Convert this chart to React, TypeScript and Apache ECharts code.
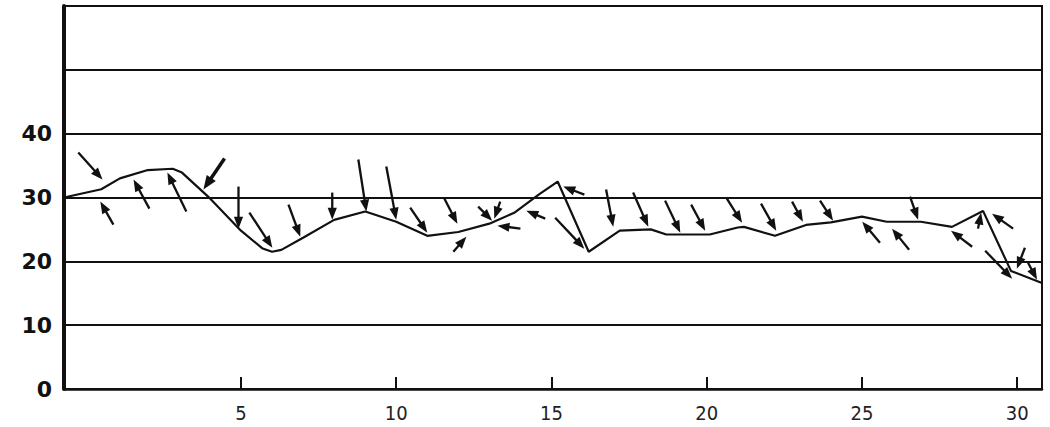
import React, { useEffect, useRef } from "react";
import * as echarts from "echarts";

// Main curve: day of month vs value
const lineDays = [-0.7, 0.5, 1.1, 2, 2.8, 3.1, 3.95, 5, 5.7, 6, 6.3, 7, 8, 9, 9.2, 10, 11, 12, 13, 13.8, 14.6, 15.2, 16.2, 17.2, 18.2, 18.7, 19.5, 20.1, 21, 21.2, 22.2, 23.2, 24, 25, 25.8, 26.9, 27.9, 28.9, 29.8, 30.8];
const lineValues = [30.0, 31.3, 33.0, 34.3, 34.5, 33.9, 30.1, 24.8, 22.0, 21.5, 21.8, 23.7, 26.5, 27.8, 27.5, 26.2, 24.0, 24.6, 25.9, 27.6, 30.5, 32.5, 21.5, 24.8, 25.0, 24.2, 24.2, 24.2, 25.3, 25.4, 24.0, 25.7, 26.1, 27.0, 26.2, 26.2, 25.4, 27.9, 18.5, 16.6];

// Wind arrows: [tailDay, tailValue, headDay, headValue]
const windArrows: number[][] = [
  [-0.24, 37.05, 0.54, 32.81],
  [0.89, 25.75, 0.47, 29.36],
  [2.05, 28.26, 1.54, 32.81],
  [3.24, 27.79, 2.63, 33.91],
  [4.47, 36.11, 3.79, 31.24],
  [4.92, 31.71, 4.92, 25.12],
  [5.27, 27.63, 6.01, 22.14],
  [6.53, 28.89, 6.91, 23.86],
  [7.94, 30.77, 7.94, 26.53],
  [8.78, 35.95, 9.04, 27.79],
  [9.68, 34.85, 10.0, 26.53],
  [10.45, 28.41, 11.0, 24.49],
  [11.55, 29.83, 11.97, 25.9],
  [11.84, 21.51, 12.26, 23.86],
  [12.64, 28.57, 13.09, 26.37],
  [13.35, 29.36, 13.16, 26.69],
  [14.0, 25.12, 13.26, 25.59],
  [14.8, 26.69, 14.19, 27.94],
  [16.06, 30.46, 15.38, 31.71],
  [15.12, 26.84, 16.06, 21.98],
  [16.76, 31.24, 16.99, 25.43],
  [17.63, 30.77, 18.12, 25.43],
  [18.66, 29.51, 19.15, 24.49],
  [19.5, 28.89, 19.95, 24.8],
  [20.63, 29.98, 21.14, 26.06],
  [21.75, 29.04, 22.24, 24.8],
  [22.75, 29.36, 23.1, 26.22],
  [23.65, 29.51, 24.07, 26.37],
  [25.58, 22.92, 25.01, 26.22],
  [26.52, 21.82, 25.97, 25.12],
  [26.55, 30.14, 26.81, 26.53],
  [28.55, 22.29, 27.87, 24.8],
  [28.74, 25.12, 28.84, 27.63],
  [29.87, 25.12, 29.19, 27.47],
  [28.97, 21.66, 29.84, 17.27],
  [30.25, 22.13, 29.99, 18.84],
  [30.35, 19.78, 30.64, 17.11],
];

const xTickValues = [5, 10, 15, 20, 25, 30];
const yLabelValues = [0, 10, 20, 30, 40];

const THICK_ARROW_INDEX = 4;
const INK = "#111";

export default function App() {
  const ref = useRef<HTMLDivElement>(null);

  useEffect(() => {
    if (!ref.current) return;
    const chart = echarts.init(ref.current, undefined, { renderer: "svg" });
    const lineData = lineDays.map((d, i) => [d, lineValues[i]]);

    chart.setOption({
      animation: false,
      backgroundColor: "#fff",
      grid: {
        left: 64,
        right: 8,
        top: 6,
        bottom: 38,
        show: true,
        borderColor: INK,
        borderWidth: 2,
      },
      xAxis: {
        type: "value",
        min: -0.7,
        max: 30.8,
        axisLine: { show: true, onZero: false, lineStyle: { color: INK, width: 2.5 } },
        splitLine: { show: false },
        axisTick: {
          show: true,
          inside: true,
          length: 12,
          customValues: xTickValues,
          lineStyle: { color: INK, width: 2 },
        },
        axisLabel: {
          customValues: xTickValues,
          color: "#222",
          fontSize: 20,
          fontFamily: "'DejaVu Sans Condensed', 'Liberation Sans Narrow', sans-serif",
          margin: 14,
        },
      },
      yAxis: {
        type: "value",
        min: 0,
        max: 60,
        interval: 10,
        axisLine: { show: true, onZero: false, lineStyle: { color: INK, width: 4 } },
        axisTick: { show: false },
        splitLine: { show: true, lineStyle: { color: INK, width: 1.8 } },
        axisLabel: {
          customValues: yLabelValues,
          color: INK,
          fontSize: 22,
          fontWeight: "bold",
          fontFamily: "'DejaVu Sans', sans-serif",
          margin: 12,
        },
      },
      series: [
        {
          type: "line",
          data: lineData,
          symbol: "none",
          lineStyle: { color: INK, width: 2.2 },
          z: 3,
        },
        {
          type: "custom",
          data: windArrows,
          encode: { x: [0, 2], y: [1, 3] },
          z: 4,
          renderItem: (params: any, api: any) => {
            const t = api.coord([api.value(0), api.value(1)]);
            const h = api.coord([api.value(2), api.value(3)]);
            const dx = h[0] - t[0];
            const dy = h[1] - t[1];
            const len = Math.hypot(dx, dy) || 1;
            const ux = dx / len;
            const uy = dy / len;
            const thick = params.dataIndex === THICK_ARROW_INDEX;
            const hl = thick ? 14 : 12;
            const hw = thick ? 5.5 : 4.6;
            const bx = h[0] - ux * hl;
            const by = h[1] - uy * hl;
            const px = -uy;
            const py = ux;
            return {
              type: "group",
              children: [
                {
                  type: "line",
                  shape: { x1: t[0], y1: t[1], x2: bx + ux * 3, y2: by + uy * 3 },
                  style: { stroke: INK, lineWidth: thick ? 3.5 : 2.3 },
                },
                {
                  type: "polygon",
                  shape: {
                    points: [
                      [h[0], h[1]],
                      [bx + px * hw, by + py * hw],
                      [bx - px * hw, by - py * hw],
                    ],
                  },
                  style: { fill: INK },
                },
              ],
            };
          },
        },
      ],
    });

    return () => chart.dispose();
  }, []);

  return (
    <div
      ref={ref}
      style={{ position: "fixed", left: 0, top: 0, width: 1050, height: 427 }}
    />
  );
}
